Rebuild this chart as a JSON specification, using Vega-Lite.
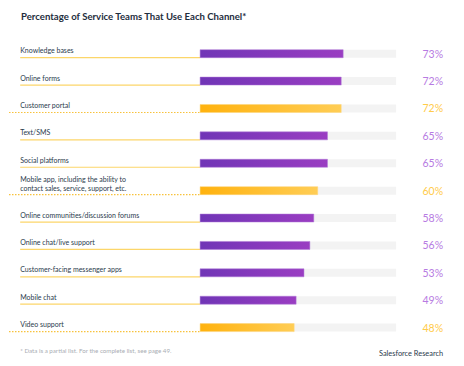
{
  "$schema": "https://vega.github.io/schema/vega-lite/v6.json",
  "width": 441,
  "height": 325,
  "autosize": {"type": "none"},
  "padding": {"left": 9, "top": 35, "right": 14, "bottom": 6},
  "background": "#ffffff",
  "config": {"view": {"stroke": null}, "font": "Lato"},
  "title": {
    "text": "Percentage of Service Teams That Use Each Channel*",
    "anchor": "start",
    "frame": "group",
    "dx": 12,
    "offset": 13,
    "font": "Lato",
    "fontSize": 9.6,
    "fontWeight": "bold",
    "color": "#1e2d3d"
  },
  "data": {
    "values": [
      {"rank": 1, "channel": "Knowledge bases", "value": 0.73, "series": "Other"},
      {"rank": 2, "channel": "Online forms", "value": 0.72, "series": "Other"},
      {"rank": 3, "channel": "Customer portal", "value": 0.72, "series": "Highlighted"},
      {"rank": 4, "channel": "Text/SMS", "value": 0.65, "series": "Other"},
      {"rank": 5, "channel": "Social platforms", "value": 0.65, "series": "Other"},
      {"rank": 6, "channel": "Mobile app, including the ability to|contact sales, service, support, etc.", "value": 0.60, "series": "Highlighted"},
      {"rank": 7, "channel": "Online communities/discussion forums", "value": 0.58, "series": "Other"},
      {"rank": 8, "channel": "Online chat/live support", "value": 0.56, "series": "Other"},
      {"rank": 9, "channel": "Customer-facing messenger apps", "value": 0.53, "series": "Other"},
      {"rank": 10, "channel": "Mobile chat", "value": 0.49, "series": "Other"},
      {"rank": 11, "channel": "Video support", "value": 0.48, "series": "Highlighted"}
    ]
  },
  "encoding": {
    "y": {"field": "rank", "type": "quantitative", "scale": {"domain": [0.5, 12], "reverse": true, "nice": false, "zero": false}, "axis": null}
  },
  "layer": [
    {
      "transform": [{"filter": "datum.series === 'Other'"}],
      "mark": {"type": "rule", "color": "#fcd66a", "strokeWidth": 1.2, "yOffset": 4},
      "encoding": {
        "x": {"datum": -0.918, "type": "quantitative", "scale": {"domain": [-0.975, 1.275], "nice": false, "zero": false}, "axis": null},
        "x2": {"datum": 0}
      }
    },
    {
      "transform": [{"filter": "datum.series === 'Highlighted'"}],
      "mark": {"type": "rule", "color": "#f8c23c", "strokeWidth": 1.2, "strokeDash": [1.5, 1.5], "yOffset": 4},
      "encoding": {
        "x": {"datum": -0.975, "type": "quantitative"},
        "x2": {"datum": 0}
      }
    },
    {
      "mark": {"type": "bar", "color": "#f3f3f3", "size": 8},
      "encoding": {
        "x": {"datum": 0, "type": "quantitative"},
        "x2": {"datum": 1}
      }
    },
    {
      "transform": [{"filter": "datum.series === 'Other'"}],
      "mark": {
        "type": "bar",
        "size": 8,
        "stroke": "#b07ad8",
        "strokeWidth": 0.5,
        "color": {"gradient": "linear", "x1": 0, "y1": 0, "x2": 1, "y2": 0,
          "stops": [{"offset": 0, "color": "#7035b6"}, {"offset": 1, "color": "#9a3dc2"}]}
      },
      "encoding": {
        "x": {"field": "value", "type": "quantitative"},
        "x2": {"datum": 0}
      }
    },
    {
      "transform": [{"filter": "datum.series === 'Highlighted'"}],
      "mark": {
        "type": "bar",
        "size": 8,
        "stroke": "#ffd77a",
        "strokeWidth": 0.5,
        "color": {"gradient": "linear", "x1": 0, "y1": 0, "x2": 1, "y2": 0,
          "stops": [{"offset": 0, "color": "#ffb20e"}, {"offset": 1, "color": "#ffcd55"}]}
      },
      "encoding": {
        "x": {"field": "value", "type": "quantitative"},
        "x2": {"datum": 0}
      }
    },
    {
      "transform": [{"filter": "indexof(datum.channel, '|') < 0"}],
      "mark": {"type": "text", "align": "left", "baseline": "alphabetic", "fontSize": 7, "color": "#2a3a4c", "dy": -0.5},
      "encoding": {
        "x": {"datum": -0.918, "type": "quantitative"},
        "text": {"field": "channel"}
      }
    },
    {
      "transform": [{"filter": "indexof(datum.channel, '|') >= 0"}],
      "mark": {"type": "text", "align": "left", "baseline": "alphabetic", "lineBreak": "|", "fontSize": 7, "color": "#2a3a4c", "dy": -8.5, "lineHeight": 9},
      "encoding": {
        "x": {"datum": -0.918, "type": "quantitative"},
        "text": {"field": "channel"}
      }
    },
    {
      "mark": {"type": "text", "align": "right", "baseline": "middle", "fontSize": 10.5, "fontWeight": "normal", "dy": 1},
      "encoding": {
        "x": {"datum": 1.24, "type": "quantitative"},
        "text": {"field": "value", "format": ".0%"},
        "color": {"field": "series", "type": "nominal", "scale": {"domain": ["Other", "Highlighted"], "range": ["#b77be2", "#ffcb4a"]}, "legend": null}
      }
    },
    {
      "data": {"values": [{"note": "* Data is a partial list. For the complete list, see page 49.", "pos": 11.85}]},
      "mark": {"type": "text", "align": "left", "baseline": "middle", "fontSize": 6.2, "color": "#a9adb3"},
      "encoding": {
        "x": {"datum": -0.918, "type": "quantitative"},
        "y": {"field": "pos", "type": "quantitative"},
        "text": {"field": "note"}
      }
    },
    {
      "data": {"values": [{"source": "Salesforce Research", "pos": 11.98}]},
      "mark": {"type": "text", "align": "right", "baseline": "middle", "fontSize": 7.4, "color": "#2a3a4c"},
      "encoding": {
        "x": {"datum": 1.24, "type": "quantitative"},
        "y": {"field": "pos", "type": "quantitative"},
        "text": {"field": "source"}
      }
    }
  ]
}
